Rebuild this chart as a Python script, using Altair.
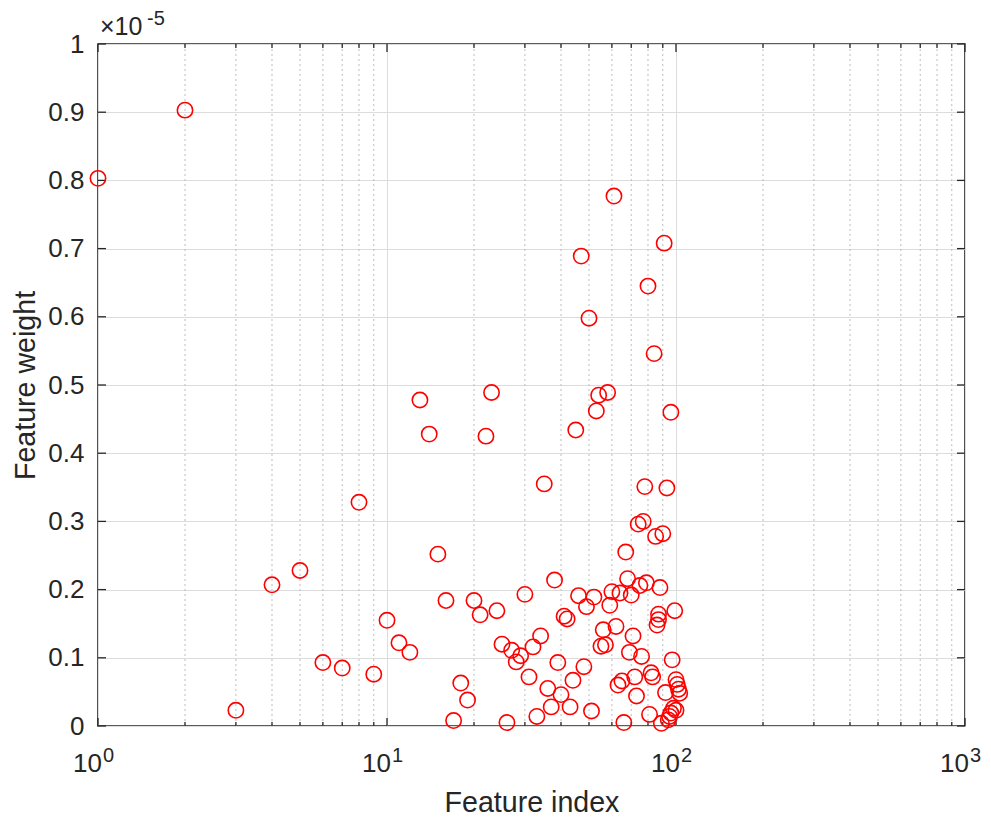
import altair as alt
import pandas as pd

# ---- data (weights in units of 1e-5) ----
feature_index = [
    1, 2, 3, 4, 5, 6, 7, 8, 9, 10,
    11, 12, 13, 14, 15, 16, 17, 18, 19, 20,
    21, 22, 23, 24, 25, 26, 27, 28, 29, 30,
    31, 32, 33, 34, 35, 36, 37, 38, 39, 40,
    41, 42, 43, 44, 45, 46, 47, 48, 49, 50,
    51, 52, 53, 54, 55, 56, 57, 58, 59, 60,
    61, 62, 63, 64, 65, 66, 67, 68, 69, 70,
    71, 72, 73, 74, 75, 76, 77, 78, 79, 80,
    81, 82, 83, 84, 85, 86, 87, 88, 89, 90,
    91, 92, 93, 94, 95, 96, 97, 98, 99, 100,
    101, 102, 103, 87, 96, 100,
]
feature_weight = [
    0.803, 0.903, 0.023, 0.207, 0.228, 0.093, 0.085, 0.328, 0.076, 0.155,
    0.122, 0.108, 0.478, 0.428, 0.252, 0.184, 0.008, 0.063, 0.038, 0.184,
    0.163, 0.425, 0.489, 0.169, 0.120, 0.005, 0.111, 0.094, 0.103, 0.193,
    0.072, 0.116, 0.014, 0.132, 0.355, 0.055, 0.028, 0.214, 0.093, 0.046,
    0.161, 0.157, 0.028, 0.067, 0.434, 0.191, 0.689, 0.087, 0.175, 0.598,
    0.022, 0.189, 0.462, 0.485, 0.117, 0.141, 0.119, 0.489, 0.177, 0.197,
    0.777, 0.146, 0.060, 0.195, 0.066, 0.005, 0.255, 0.216, 0.108, 0.192,
    0.132, 0.072, 0.044, 0.296, 0.206, 0.102, 0.300, 0.351, 0.210, 0.645,
    0.017, 0.078, 0.072, 0.546, 0.278, 0.148, 0.156, 0.203, 0.004, 0.282,
    0.708, 0.049, 0.349, 0.009, 0.014, 0.460, 0.097, 0.026, 0.169, 0.068,
    0.061, 0.054, 0.048, 0.164, 0.019, 0.023,
]

x_major = [1, 10, 100, 1000]
x_exponents = ["0", "1", "2", "3"]
x_minor = [k * d for d in (1, 10, 100) for k in range(2, 10)]
y_ticks = [0, 0.1, 0.2, 0.3, 0.4, 0.5, 0.6, 0.7, 0.8, 0.9, 1]

W, H = 867, 682
FONT = "Liberation Sans"
TXT = "#262626"
GRID = "#dcdcdc"

xscale = alt.Scale(type="log", domain=[1, 1000], nice=False)
yscale = alt.Scale(domain=[0, 1], nice=False, zero=False)

pts = pd.DataFrame({"v": feature_index, "w": feature_weight})
major_df = pd.DataFrame({"v": x_major, "base": ["10"] * 4, "e": x_exponents})
minor_df = pd.DataFrame({"v": x_minor})
ytick_df = pd.DataFrame({"w": y_ticks})
one = pd.DataFrame({"a": [0]})

x_axis = alt.Axis(
    values=x_major, labels=False, ticks=False, tickSize=0, domain=False,
    grid=True, gridColor=GRID, gridWidth=1,
    title="Feature index", titleFont=FONT, titleFontSize=28.6,
    titleFontWeight="normal", titleColor=TXT, titleY=85,
    titleBaseline="alphabetic",
)
y_axis = alt.Axis(
    values=y_ticks, format="~g", ticks=False, tickSize=0, domain=False,
    grid=True, gridColor=GRID, gridWidth=1,
    labelFont=FONT, labelFontSize=26, labelColor=TXT, labelPadding=14,
    labelFlush=False, labelOverlap=False,
    title="Feature weight", titleFont=FONT, titleFontSize=28.6,
    titleFontWeight="normal", titleColor=TXT, titleAngle=270,
    titleX=-73, titleY=H / 2, titleBaseline="middle", titleAlign="center",
)

X = alt.X("v:Q", scale=xscale, axis=x_axis)
Y = alt.Y("w:Q", scale=yscale, axis=y_axis)

minor_grid = alt.Chart(minor_df).mark_rule(
    color="#bdbdbd", strokeDash=[2, 3], strokeWidth=1
).encode(x=X, y=alt.value(0), y2=alt.value(H))

points = alt.Chart(pts).mark_point(
    shape="circle", filled=False, color="#ff0000", size=235,
    strokeWidth=1.6, opacity=1,
).encode(x=X, y=Y)

tick_style = dict(color=TXT, strokeWidth=1.3)
ticks = [
    alt.Chart(major_df).mark_rule(**tick_style).encode(x=X, y=alt.value(H), y2=alt.value(H - 8)),
    alt.Chart(major_df).mark_rule(**tick_style).encode(x=X, y=alt.value(0), y2=alt.value(8)),
    alt.Chart(minor_df).mark_rule(**tick_style).encode(x=X, y=alt.value(H), y2=alt.value(H - 4)),
    alt.Chart(minor_df).mark_rule(**tick_style).encode(x=X, y=alt.value(0), y2=alt.value(4)),
    alt.Chart(ytick_df).mark_rule(**tick_style).encode(y=Y, x=alt.value(0), x2=alt.value(8)),
    alt.Chart(ytick_df).mark_rule(**tick_style).encode(y=Y, x=alt.value(W - 8), x2=alt.value(W)),
]

xlab_base = alt.Chart(major_df).mark_text(
    align="right", baseline="alphabetic", font=FONT, fontSize=26, color=TXT, dx=4
).encode(x=X, y=alt.value(H + 46), text="base:N")
xlab_exp = alt.Chart(major_df).mark_text(
    align="left", baseline="alphabetic", font=FONT, fontSize=20, color=TXT, dx=5
).encode(x=X, y=alt.value(H + 36), text="e:N")

mult_base = alt.Chart(one).mark_text(
    align="left", baseline="alphabetic", font=FONT, fontSize=25, color=TXT
).encode(x=alt.value(2), y=alt.value(-9), text=alt.value("\u00d710"))
mult_exp = alt.Chart(one).mark_text(
    align="left", baseline="alphabetic", font=FONT, fontSize=20, color=TXT
).encode(x=alt.value(49), y=alt.value(-19), text=alt.value("-5"))

chart = alt.layer(
    minor_grid, *ticks, points, xlab_base, xlab_exp, mult_base, mult_exp
).properties(
    width=W, height=H,
    autosize=alt.AutoSizeParams(type="none"),
    padding={"left": 90, "top": 36, "right": 18, "bottom": 92},
    background="white",
).configure_view(stroke=TXT, strokeWidth=1.6)

chart.save("out.html", embed_options={"renderer": "svg", "actions": False})
